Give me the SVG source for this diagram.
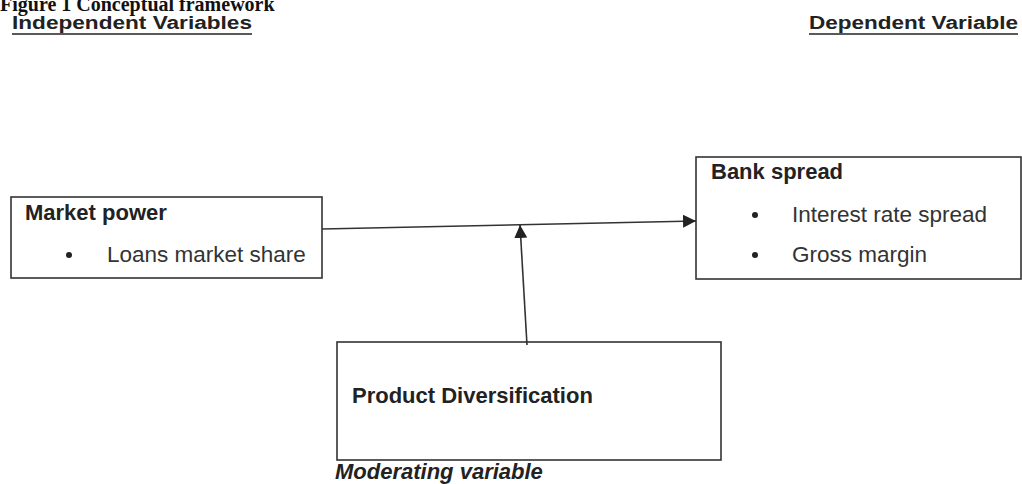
<svg xmlns="http://www.w3.org/2000/svg" width="1022" height="484" viewBox="0 0 1022 484">
<style>
.box{fill:#fff;stroke:#333;stroke-width:1.6}
.b{font-family:"Liberation Sans",Arial,sans-serif;font-weight:bold;font-size:22px;fill:#222}
.t{font-family:"Liberation Sans",Arial,sans-serif;font-size:22.5px;fill:#333}
.h{font-family:"Liberation Sans",Arial,sans-serif;font-weight:bold;font-size:18px;fill:#222}
.ul{stroke:#222;stroke-width:1.6}
.dot{fill:#222}
.conn{stroke:#333;stroke-width:1.6;fill:none}
</style>
<defs>
<marker id="arr" markerUnits="userSpaceOnUse" markerWidth="14" markerHeight="14" refX="13" refY="6.5" orient="auto">
<path d="M0,0 L13,6.5 L0,13 z" fill="#222"/>
</marker>
</defs>
<rect width="1022" height="484" fill="#fff"/>
<text x="0" y="11" font-family="'Liberation Serif','Times New Roman',serif" font-weight="bold" font-size="20" fill="#111">Figure 1 Conceptual framework</text>
<g id="header-independent">
<text class="h" x="12" y="29" textLength="240" lengthAdjust="spacingAndGlyphs">Independent Variables</text>
<line class="ul" x1="12" y1="34" x2="252" y2="34"/>
</g>
<g id="header-dependent">
<text class="h" x="809" y="29" textLength="209" lengthAdjust="spacingAndGlyphs">Dependent Variable</text>
<line class="ul" x1="809" y1="34" x2="1018" y2="34"/>
</g>
<g id="market-power">
<rect class="box" x="11" y="197" width="311" height="81"/>
<text class="b" x="25" y="220">Market power</text>
<circle class="dot" cx="69" cy="255" r="3"/>
<text class="t" x="107" y="262">Loans market share</text>
</g>
<g id="bank-spread">
<rect class="box" x="696" y="157" width="325" height="122"/>
<text class="b" x="711" y="179">Bank spread</text>
<circle class="dot" cx="755" cy="215" r="3"/>
<text class="t" x="792" y="222">Interest rate spread</text>
<circle class="dot" cx="755" cy="255" r="3"/>
<text class="t" x="792" y="262">Gross margin</text>
</g>
<g id="product-diversification">
<rect class="box" x="337" y="342" width="384" height="118"/>
<text class="b" x="352" y="403">Product Diversification</text>
</g>
<g id="moderating-label">
<text class="b" x="335" y="479" font-style="italic">Moderating variable</text>
</g>
<g id="connectors">
<line class="conn" x1="322" y1="229" x2="696" y2="221" marker-end="url(#arr)"/>
<line class="conn" x1="527" y1="345" x2="520" y2="225" marker-end="url(#arr)"/>
</g>
</svg>
